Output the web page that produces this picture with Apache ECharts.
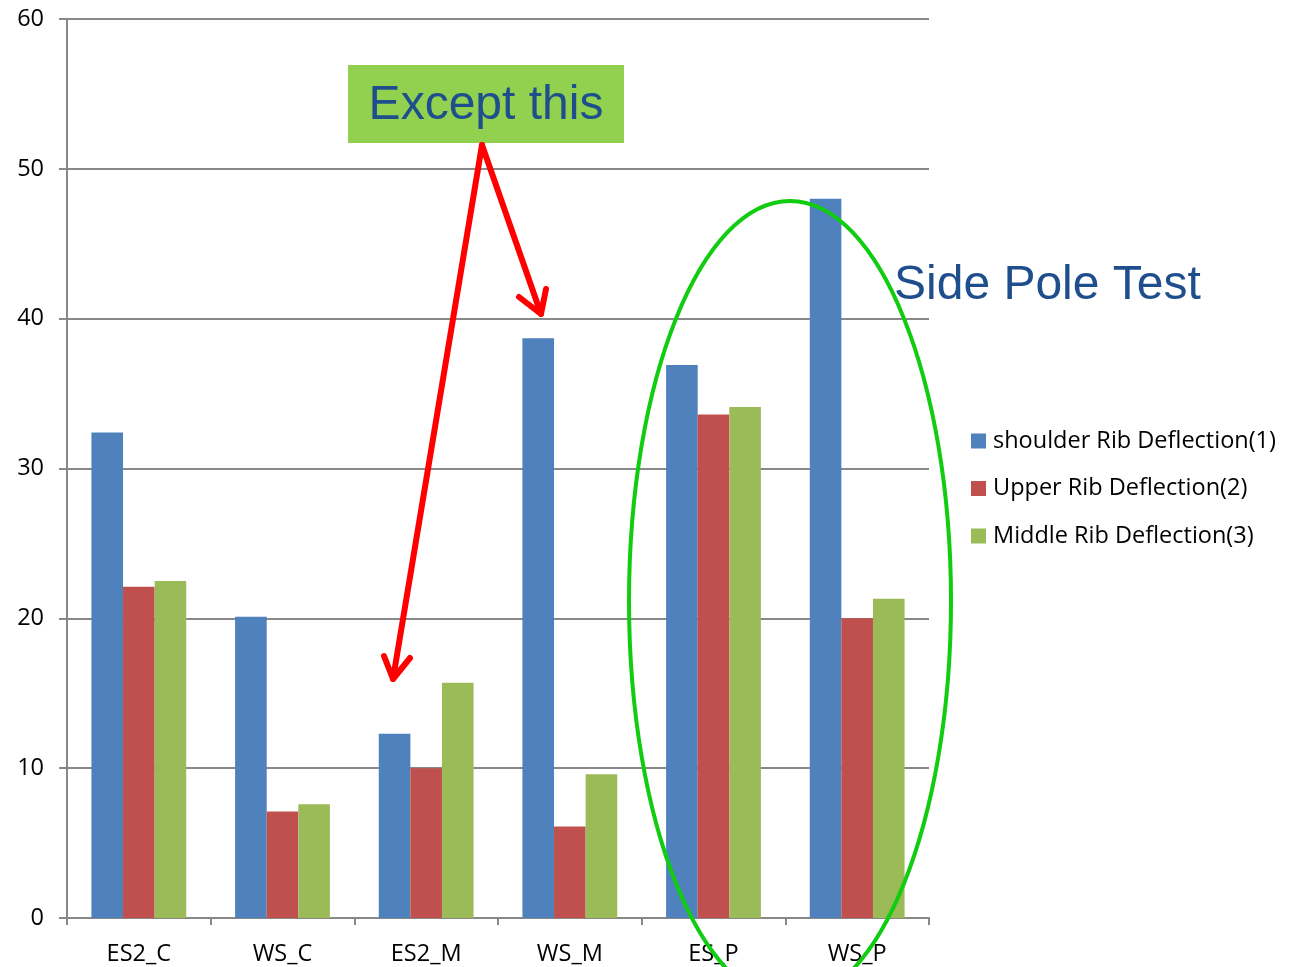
<!DOCTYPE html>
<html>
<head>
<meta charset="utf-8">
<script src="https://cdn.jsdelivr.net/npm/echarts@6/dist/echarts.min.js"></script>
<style>
  html, body { margin: 0; padding: 0; background: #fff; }
  #chart { width: 1295px; height: 967px; }
</style>
</head>
<body>
<div id="chart"></div>
<script>
// Test configurations on the category axis
const categories = ['ES2_C', 'WS_C', 'ES2_M', 'WS_M', 'ES_P', 'WS_P'];

// Rib deflection per test (mm)
const shoulderRib = [32.4, 20.1, 12.3, 38.7, 36.9, 48.0];
const upperRib    = [22.1, 7.1, 10.0, 6.1, 33.6, 20.0];
const middleRib   = [22.5, 7.6, 15.7, 9.6, 34.1, 21.3];

const seriesNames = [
  'shoulder Rib Deflection(1)',
  'Upper Rib Deflection(2)',
  'Middle Rib Deflection(3)'
];

const yTicks = { min: 0, max: 60, interval: 10 };

const colors = ['#4F81BD', '#C0504D', '#9BBB59'];
const labelFont = '"Open Sans", Lato, "DejaVu Sans", sans-serif';
const labelSize = 23.5;
const noteFont = '"Liberation Sans", Arial, sans-serif';
const noteColor = '#1F4E8D';

const chart = echarts.init(document.getElementById('chart'));

function bar(name, data, color) {
  return {
    name: name,
    type: 'bar',
    data: data,
    barGap: '0%',
    barCategoryGap: '34%',
    itemStyle: { color: color },
    emphasis: { disabled: true }
  };
}

// Red arrow: a shaft from the note box plus a two-stroke head at the tip
function arrow(from, tip, headA, headB) {
  const style = { stroke: '#FF0000', lineWidth: 6, lineCap: 'round', lineJoin: 'round', fill: null };
  return [
    { type: 'line', shape: { x1: from[0], y1: from[1], x2: tip[0], y2: tip[1] }, style: style, z: 100 },
    { type: 'polyline', shape: { points: [headA, tip, headB] }, style: style, z: 100 }
  ];
}

const option = {
  animation: false,
  backgroundColor: '#ffffff',
  color: colors,
  grid: { left: 67, right: 366, top: 19, bottom: 49, containLabel: false },
  legend: {
    orient: 'vertical',
    left: 966,
    top: 424,
    itemWidth: 15,
    itemHeight: 15,
    itemGap: 23.5,
    icon: 'rect',
    textStyle: { fontFamily: labelFont, fontSize: labelSize, color: '#000', padding: [0, 0, 0, 2] },
    data: seriesNames
  },
  xAxis: {
    type: 'category',
    data: categories,
    axisLine: { lineStyle: { color: '#888888', width: 2 } },
    axisTick: { show: true, length: 7, lineStyle: { color: '#888888', width: 2 } },
    axisLabel: { fontFamily: labelFont, fontSize: labelSize, color: '#000', margin: 24 }
  },
  yAxis: {
    type: 'value',
    min: yTicks.min,
    max: yTicks.max,
    interval: yTicks.interval,
    axisLine: { show: true, lineStyle: { color: '#888888', width: 2 } },
    axisTick: { show: true, length: 8, lineStyle: { color: '#888888', width: 2 } },
    axisLabel: { fontFamily: labelFont, fontSize: labelSize, color: '#000', margin: 23 },
    splitLine: { lineStyle: { color: '#888888', width: 2 } }
  },
  series: [
    bar(seriesNames[0], shoulderRib, colors[0]),
    bar(seriesNames[1], upperRib, colors[1]),
    bar(seriesNames[2], middleRib, colors[2])
  ],
  graphic: [
    // "Except this" note box
    {
      type: 'rect',
      shape: { x: 348, y: 65, width: 276, height: 78 },
      style: { fill: '#92D050' },
      z: 90
    },
    {
      type: 'text',
      x: 486, y: 106,
      style: {
        text: 'Except this',
        fontFamily: noteFont,
        fontSize: 48,
        fill: noteColor,
        align: 'center',
        verticalAlign: 'middle'
      },
      z: 91
    },
    ...arrow([482, 145], [541, 314], [519, 297], [546, 289]),
    ...arrow([482, 145], [393, 679], [384, 656], [410, 658]),
    // Ellipse grouping the side pole tests
    {
      type: 'ellipse',
      shape: { cx: 790, cy: 601, rx: 161, ry: 400 },
      style: { fill: null, stroke: '#11CC11', lineWidth: 4 },
      z: 95
    },
    {
      type: 'text',
      x: 894, y: 286,
      style: {
        text: 'Side Pole Test',
        fontFamily: noteFont,
        fontSize: 48,
        fill: noteColor,
        align: 'left',
        verticalAlign: 'middle'
      },
      z: 96
    }
  ]
};

chart.setOption(option);
</script>
</body>
</html>
